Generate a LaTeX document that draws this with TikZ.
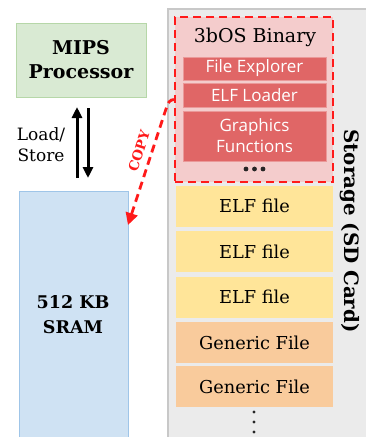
\documentclass[tikz,border=0pt]{standalone}
\usepackage{fontspec}
\setmainfont{DejaVu Serif}
\newfontfamily\barfont{Open Sans}
\usetikzlibrary{arrows.meta,calc}
\definecolor{mipsfill}{HTML}{D9EAD3}
\definecolor{mipsline}{HTML}{B6D7A8}
\definecolor{sramfill}{HTML}{CFE2F3}
\definecolor{sramline}{HTML}{9FC5E8}
\definecolor{storfill}{HTML}{EBEBEB}
\definecolor{storline}{HTML}{C8C8C8}
\definecolor{binfill}{HTML}{F4CCCC}
\definecolor{barfill}{HTML}{E06666}
\definecolor{barline}{HTML}{EA9999}
\definecolor{elffill}{HTML}{FFE599}
\definecolor{genfill}{HTML}{F9CB9C}
\definecolor{copyred}{HTML}{FF1A1A}
\tikzset{
  plainbox/.style={rectangle, inner sep=0pt, outer sep=0pt},
  barbox/.style={plainbox, fill=barfill, draw=barline, line width=0.8pt, minimum width=143pt, text=white, font=\barfont\fontsize{17}{21}\selectfont, align=center},
  filebox/.style={plainbox, minimum width=157pt, minimum height=41pt, font=\fontsize{17.8}{20}\selectfont},
  elfbox/.style={filebox, fill=elffill},
  genbox/.style={filebox, fill=genfill},
  bigtext/.style={font=\bfseries\fontsize{19}{24}\selectfont, align=center},
  redash/.style={draw=copyred, line width=2.8pt, dash pattern=on 8pt off 5pt},
  lsarrow/.style={line width=3pt, -{Triangle[length=11pt,width=10pt]}},
  smalldot/.style={circle, fill=black!85, inner sep=0pt, minimum size=3.6pt}
}
\begin{document}
\begin{tikzpicture}[x=1pt,y=-1pt]
\useasboundingbox (0,0) rectangle (365,437);
\fill[white] (0,0) rectangle (365,437);
% storage area
\node[plainbox, fill=storfill, draw=storline, line width=1.8pt, minimum width=210pt, minimum height=440pt] (storage) at (273,229) {};
\node[bigtext, font=\bfseries\fontsize{19.8}{24}\selectfont, rotate=-90] (storlabel) at (350,231) {Storage (SD Card)};
% binary
\node[plainbox, fill=binfill, redash, minimum width=158pt, minimum height=165pt] (binary) at (254,99.5) {};
\node[font=\fontsize{19}{22}\selectfont] (bintitle) at (255,37) {3bOS Binary};
\node[barbox, minimum height=23pt] (fe) at (254.5,68.5) {File Explorer};
\node[barbox, minimum height=24pt] (el) at (254.5,95) {ELF Loader};
\node[barbox, minimum height=50pt] (gf) at (254.5,136) {Graphics\\Functions};
\node[smalldot, minimum size=4.8pt] (d1) at (246,169) {};
\node[smalldot, minimum size=4.8pt] (d2) at (254.5,169) {};
\node[smalldot, minimum size=4.8pt] (d3) at (263,169) {};
% files
\node[elfbox] (e1) at (254.5,206) {ELF file};
\node[elfbox] (e2) at (254.5,251.5) {ELF file};
\node[elfbox] (e3) at (254.5,297) {ELF file};
\node[genbox] (g1) at (254.5,342.5) {Generic File};
\node[genbox] (g2) at (254.5,386.5) {Generic File};
\node[smalldot, minimum size=3.2pt] (v1) at (254,412) {};
\node[smalldot, minimum size=3.2pt] (v2) at (254,422) {};
\node[smalldot, minimum size=3.2pt] (v3) at (254,432) {};
% processor and memory
\node[plainbox, fill=mipsfill, draw=mipsline, line width=1pt, minimum width=130pt, minimum height=74pt, bigtext] (mips) at (81,60) {MIPS\\Processor};
\node[plainbox, fill=sramfill, draw=sramline, line width=1pt, minimum width=109pt, minimum height=260pt] (sram) at (73.5,321) {};
\node[bigtext, font=\bfseries\fontsize{17.5}{25}\selectfont] (sramlabel) at (73,315) {512 KB\\SRAM};
% load/store
\coordinate (ux) at (77,0);
\coordinate (dx) at (88,0);
\draw[lsarrow, shorten <=13pt, shorten >=10pt] (sram.north -| ux) -- (mips.south -| ux);
\draw[lsarrow, shorten <=11pt, shorten >=13pt] (mips.south -| dx) -- (sram.north -| dx);
\node[font=\fontsize{17}{21}\selectfont, align=center] (ls) at (41,145) {Load/\\Store};
% copy
\coordinate (tip) at ($(sram.north east)+(0,34)$);
\draw[redash, -{Triangle[length=12pt,width=12pt]}] (binary.west) .. controls (169,100) .. (164,115) -- (tip);
\node[text=copyred, font=\bfseries\fontsize{13.5}{14}\selectfont, rotate=72] (copy) at (139,151) {COPY};
\end{tikzpicture}
\end{document}
